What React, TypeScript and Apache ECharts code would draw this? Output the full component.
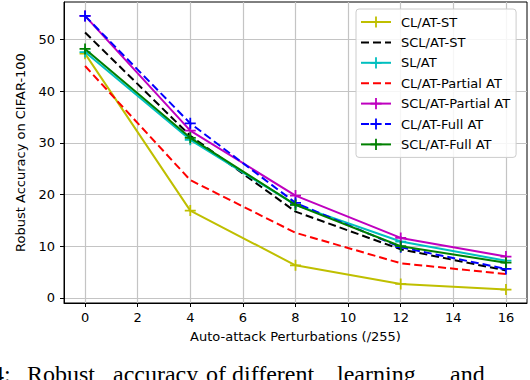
import React, { useEffect, useRef } from "react";
import * as echarts from "echarts";

const xValues = [0, 4, 8, 12, 16];
const xTicks = [0, 2, 4, 6, 8, 10, 12, 14, 16];
const yTicks = [0, 10, 20, 30, 40, 50];

const clAtSt = [47.3, 16.9, 6.3, 2.7, 1.6];
const sclAtSt = [51.4, 31.4, 16.7, 9.4, 5.3];
const slAt = [47.6, 30.6, 18.0, 10.9, 7.2];
const clAtPartial = [44.9, 22.8, 12.6, 6.7, 4.6];
const sclAtPartial = [54.6, 32.4, 19.8, 11.6, 8.0];
const clAtFull = [54.6, 33.8, 18.4, 9.8, 5.6];
const sclAtFull = [48.2, 31.0, 18.0, 10.0, 6.8];

const seriesNames = [
  "CL/AT-ST",
  "SCL/AT-ST",
  "SL/AT",
  "CL/AT-Partial AT",
  "SCL/AT-Partial AT",
  "CL/AT-Full AT",
  "SCL/AT-Full AT",
];
const seriesData = [clAtSt, sclAtSt, slAt, clAtPartial, sclAtPartial, clAtFull, sclAtFull];
const seriesColors = ["#bfbf00", "#000000", "#00bfbf", "#ff0000", "#bf00bf", "#0000ff", "#008000"];
const seriesDashed = [false, true, false, true, false, true, false];
const seriesMarker = [true, false, true, false, true, true, true];

const captionWords = ["4:", "Robust", "accuracy", "of", "different", "learning", "and"];
const captionX = [-8, 27, 113, 206, 232, 337, 450];

const PLUS = "path://M4.2,0 H5.8 V4.2 H10 V5.8 H5.8 V10 H4.2 V5.8 H0 V4.2 H4.2 Z";
const FONT = "DejaVu Sans";

export default function App() {
  const ref = useRef<HTMLDivElement>(null);
  useEffect(() => {
    if (!ref.current) return;
    const chart = echarts.init(ref.current, undefined, { renderer: "svg" });
    const series = seriesNames.map((name, i) => ({
      name,
      type: "line",
      data: xValues.map((x, j) => [x, seriesData[i][j]]),
      symbol: seriesMarker[i] ? PLUS : "none",
      showSymbol: seriesMarker[i],
      symbolSize: 11,
      itemStyle: { color: seriesMarker[i] ? seriesColors[i] : "rgba(0,0,0,0)" },
      lineStyle: {
        color: seriesColors[i],
        width: 2,
        type: seriesDashed[i] ? [8, 4] : "solid",
      },
      z: 3 + i,
    }));
    chart.setOption({
      animation: false,
      backgroundColor: "#ffffff",
      grid: {
        left: 64,
        top: 2,
        width: 463,
        height: 301,
        show: true,
        borderColor: "#000000",
        borderWidth: 1,
      },
      xAxis: {
        type: "value",
        min: -0.8,
        max: 16.8,
        name: "Auto-attack Perturbations (/255)",
        nameLocation: "middle",
        nameGap: 27,
        nameTextStyle: { fontFamily: FONT, fontSize: 13, color: "#000" },
        axisLine: { show: true, onZero: false, lineStyle: { color: "#000", width: 1 } },
        axisTick: { show: true, length: 4, customValues: xTicks, lineStyle: { color: "#000" } },
        axisLabel: {
          customValues: xTicks,
          margin: 8,
          fontFamily: FONT,
          fontSize: 13,
          color: "#000",
        },
        splitLine: { show: true, lineStyle: { color: "#c4c4c4", width: 1.2 } },
      },
      yAxis: {
        type: "value",
        min: -1,
        max: 57.3,
        name: "Robust Accuracy on CIFAR-100",
        nameLocation: "middle",
        nameGap: 37,
        nameRotate: 90,
        nameTextStyle: { fontFamily: FONT, fontSize: 13, color: "#000" },
        axisLine: { show: true, onZero: false, lineStyle: { color: "#000", width: 1 } },
        axisTick: { show: true, length: 4, customValues: yTicks, lineStyle: { color: "#000" } },
        axisLabel: {
          customValues: yTicks,
          margin: 9,
          fontFamily: FONT,
          fontSize: 13,
          color: "#000",
        },
        splitLine: { show: true, lineStyle: { color: "#c4c4c4", width: 1.2 } },
      },
      legend: {
        orient: "vertical",
        left: 356,
        top: 9,
        padding: [6, 6, 6, 4],
        itemWidth: 30,
        itemHeight: 14,
        itemGap: 6.4,
        backgroundColor: "rgba(255,255,255,0.85)",
        borderColor: "#cccccc",
        borderWidth: 1,
        borderRadius: 3,
        textStyle: {
          fontFamily: FONT,
          fontSize: 13,
          color: "#000",
          padding: [0, 0, 0, 5],
          lineHeight: 14,
        },
        data: seriesNames,
      },
      graphic: captionWords.map((w, i) => ({
        type: "text",
        x: captionX[i],
        y: 362,
        style: {
          text: w,
          font: "24px 'Liberation Serif', serif",
          fill: "#000",
          textVerticalAlign: "top",
        },
      })),
      series,
    });
    return () => chart.dispose();
  }, []);
  return (
    <div
      ref={ref}
      style={{ position: "fixed", left: 0, top: 0, width: 530, height: 380 }}
    />
  );
}
